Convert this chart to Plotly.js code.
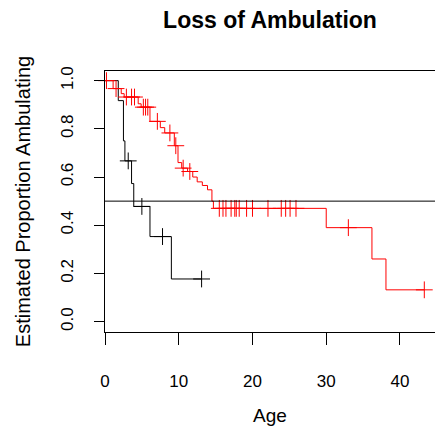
<!DOCTYPE html>
<html>
<head>
<meta charset="utf-8">
<script src="https://cdn.plot.ly/plotly-3.0.1.min.js"></script>
<style>html,body{margin:0;padding:0;background:#fff;}#chart{width:435px;height:430px;}</style>
</head>
<body>
<div id="chart"></div>
<script>
// Black group: step curve (event times and survival after each drop)
const blackTimes = [0, 1.8, 2.5, 2.7, 3.6, 3.9, 6.1, 9.0, 13.1];
const blackSurv  = [1.0, 0.917, 0.75, 0.667, 0.573, 0.478, 0.353, 0.177, 0.177];
const blackCensorTimes = [3.15, 5.0, 7.8, 13.1];
const blackCensorSurv  = [0.667, 0.478, 0.353, 0.177];

// Red group
const redTimes = [0, 1.1, 2.2, 2.6, 4.5, 4.9, 6.1, 7.5, 8.1, 9.4, 9.9, 10.4, 11.2, 11.9, 12.5, 13.2, 13.9, 14.5, 14.7, 30.0, 36.2, 38.1, 43.3];
const redSurv  = [1.0, 0.967, 0.946, 0.932, 0.904, 0.890, 0.831, 0.805, 0.783, 0.730, 0.660, 0.637, 0.623, 0.600, 0.580, 0.565, 0.547, 0.500, 0.470, 0.390, 0.260, 0.132, 0.132];
const redCensorTimes = [0.2, 1.5, 2.9, 3.6, 4.0, 5.2, 5.5, 5.8, 7.1, 8.8, 9.6, 10.6, 11.5,
  15.5, 16.0, 16.4, 17.1, 17.6, 17.8, 18.2, 19.2, 20.0, 22.1, 23.9, 24.5, 25.1, 25.9, 33.0, 43.3];
const redCensorSurv = [1.0, 0.967, 0.932, 0.932, 0.932, 0.890, 0.890, 0.890, 0.831, 0.783, 0.730, 0.637, 0.623,
  0.47, 0.47, 0.47, 0.47, 0.47, 0.47, 0.47, 0.47, 0.47, 0.47, 0.47, 0.47, 0.47, 0.47, 0.39, 0.132];

const yTickVals = [0, 0.2, 0.4, 0.6, 0.8, 1.0];
const yTickText = ["0.0", "0.2", "0.4", "0.6", "0.8", "1.0"];
const xTickVals = [0, 10, 20, 30, 40];
const refLines = [0.5];

const titleText = "Loss of Ambulation";
const xTitle = "Age";
const yTitle = "Estimated Proportion Ambulating";

const font = "Liberation Sans, Arial, sans-serif";

const traces = [
  {x: blackTimes, y: blackSurv, mode: 'lines', line: {shape: 'hv', color: '#000', width: 1}, hoverinfo: 'skip'},
  {x: redTimes, y: redSurv, mode: 'lines', line: {shape: 'hv', color: '#ff0000', width: 1}, hoverinfo: 'skip'},
  {x: blackCensorTimes, y: blackCensorSurv, mode: 'markers', cliponaxis: false,
   marker: {symbol: 'cross-thin-open', size: 12, color: '#000', line: {color: '#000', width: 1}}, hoverinfo: 'skip'},
  {x: redCensorTimes, y: redCensorSurv, mode: 'markers', cliponaxis: false,
   marker: {symbol: 'cross-thin-open', size: 12, color: '#ff0000', line: {color: '#ff0000', width: 1}}, hoverinfo: 'skip'}
];

const shapes = refLines.map(v => ({type: 'line', xref: 'paper', x0: 0, x1: 1, yref: 'y', y0: v, y1: v,
  line: {color: '#000', width: 1}}));

const layout = {
  width: 435, height: 430,
  margin: {l: 105, r: 0, t: 71, b: 98},
  paper_bgcolor: '#fff', plot_bgcolor: '#fff',
  showlegend: false,
  font: {family: font, color: '#000', size: 16},
  title: {text: '<b>' + titleText + '</b>', font: {size: 23, family: font, color: '#000'},
          x: 0.5, xref: 'paper', xanchor: 'center', y: 0.953, yref: 'container', yanchor: 'middle'},
  xaxis: {range: [0, 44.75], tickvals: xTickVals, ticks: 'outside', ticklen: 12, tickwidth: 1, tickcolor: '#000',
          showline: true, linecolor: '#000', linewidth: 1, mirror: true, showgrid: false, zeroline: false,
          tickfont: {size: 17}, ticklabelstandoff: 22,
          title: {text: xTitle, font: {size: 19}, standoff: 18}},
  yaxis: {range: [-0.043, 1.04], tickvals: yTickVals, ticktext: yTickText, tickangle: -90,
          ticks: 'outside', ticklen: 10, tickwidth: 1, tickcolor: '#000',
          showline: true, linecolor: '#000', linewidth: 1, showgrid: false, zeroline: false,
          tickfont: {size: 17}, ticklabelstandoff: 14,
          title: {text: yTitle, font: {size: 20}, standoff: 22}},
  shapes: shapes
};

Plotly.newPlot('chart', traces, layout, {displayModeBar: false, staticPlot: true});
</script>
</body>
</html>
